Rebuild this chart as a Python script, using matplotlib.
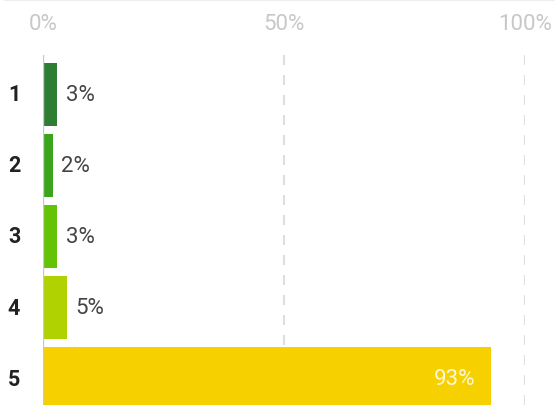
import matplotlib
matplotlib.use("Agg")
import matplotlib.pyplot as plt
from matplotlib.lines import Line2D

plt.rcParams['font.family'] = ['Roboto', 'DejaVu Sans']

categories = ["1", "2", "3", "4", "5"]
values = [3, 2, 3, 5, 93]
colors = ["#2e7d32", "#3aa41b", "#63c304", "#b0d200", "#f7d000"]
tick_values = [0, 50, 100]
tick_labels = ["0%", "50%", "100%"]

W, H = 555, 406
fig = plt.figure(figsize=(W / 100, H / 100), dpi=100)

# plot area: from the 0% line to the 100% line, top of the grid to the bottom edge
left, right, top, bottom = 43, 525, 56, 406
ax = fig.add_axes([left / W, 1 - bottom / H, (right - left) / W, (bottom - top) / H])

ypos = list(range(len(categories)))
ax.barh(ypos, values, height=0.89, color=colors, zorder=2)
ax.set_xlim(0, 100)
ax.set_ylim(4.373, -0.556)

for v in tick_values[1:]:
    ax.axvline(v, color="#dedede", lw=1.5, dashes=(4.8, 4.8), zorder=1)
ax.axvline(0, color="#c8c8c8", lw=1, zorder=3)

for s in ax.spines.values():
    s.set_visible(False)
ax.set_xticks([])
ax.set_yticks([])

for y, v in zip(ypos, values):
    if v > 50:
        ax.text(v - 3.3, y, f"{v}%", ha="right", va="center",
                fontsize=16, color="white", alpha=0.85, zorder=3)
    else:
        ax.text(v + 1.7, y, f"{v}%", ha="left", va="center",
                fontsize=16, color="#444444", zorder=3)

# category labels to the left of the bars
for y, c in zip(ypos, categories):
    ax.text(-6, y, c, ha="center", va="center", fontsize=15.5,
            fontweight="bold", color="#222222", transform=ax.transData,
            clip_on=False)

# percentage scale above the plot
for v, lab in zip(tick_values, tick_labels):
    xf = (left + (right - left) * v / 100) / W
    fig.text(xf, 1 - 25 / H, lab, ha="center", va="center",
             fontsize=16, color="#c8c8c8")

# faint rule along the top edge
fig.add_artist(Line2D([5 / W, 1], [1 - 0.8 / H, 1 - 0.8 / H],
                      color="#eeeeee", lw=1.5))

fig.savefig("out.png", dpi=100)
